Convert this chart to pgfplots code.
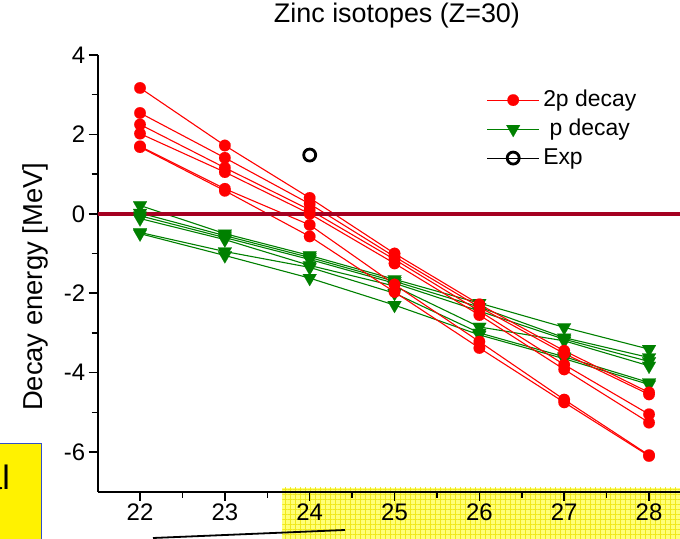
\documentclass[border=0pt]{standalone}
\usepackage{fontspec}
\setmainfont{Liberation Sans}
\usepackage{pgfplots}
\pgfplotsset{compat=1.18}
\usetikzlibrary{patterns.meta}

\definecolor{ptred}{RGB}{255,0,0}
\definecolor{ptgreen}{RGB}{0,128,0}
\definecolor{zeroline}{RGB}{165,0,33}
\definecolor{boxblue}{RGB}{50,80,200}
\definecolor{softyellow}{RGB}{255,255,120}
\definecolor{hatchyellow}{RGB}{240,232,60}

\pgfplotsset{
  twop/.style={ptred, line width=1.1bp, mark=*, mark size=5.8bp, mark options={fill=ptred, draw=ptred, line width=0.1bp}},
  onep/.style={ptgreen, line width=1.1bp, mark=triangle*, mark size=8bp, mark options={rotate=180, fill=ptgreen, draw=ptgreen, line width=0.1bp}},
}

\begin{document}
\begin{tikzpicture}
\useasboundingbox (0,0) rectangle (680bp,539bp);
\begin{scope}
\clip (0,0) rectangle (680bp,539bp);
\begin{axis}[
  at={(97.6bp,47.3bp)}, anchor=south west,
  scale only axis, width=582.4bp, height=436.7bp,
  xmin=21.5, xmax=28.365, ymin=-7, ymax=4,
  axis x line*=bottom, axis y line*=left,
  axis line style={line width=1.8bp},
  xtick={22,...,28}, ytick={-6,-4,...,4},
  minor x tick num=1, minor y tick num=1,
  tick align=outside,
  major tick length=9bp, minor tick length=6bp,
  every tick/.style={black, line width=1.5bp},
  tick label style={font=\fontsize{24}{29}\selectfont},
  /pgf/number format/assume math mode=true,
  title={Zinc isotopes (Z=30)},
  title style={font=\fontsize{27}{32}\selectfont, at={(axis description cs:0.514,1)}, anchor=center, yshift=33bp},
  ylabel={Decay energy [MeV]},
  ylabel style={font=\fontsize{27.5}{33}\selectfont, at={(axis description cs:-0.1075,0.469)}, anchor=center},
  legend style={draw=none, fill=none, at={(axis description cs:0.668,0.930)}, anchor=north west,
    inner sep=0pt, outer sep=0pt, font=\fontsize{23}{27}\selectfont,
    nodes={inner sep=3.5bp, text height=17bp, text depth=5bp}},
  legend cell align=left,
  legend image code/.code={\draw[mark repeat=2,mark phase=2,#1] plot coordinates {(0bp,0bp) (26bp,0bp) (52bp,0bp)};},
]
\addlegendimage{twop}
\addlegendentry{2p decay}
\addlegendimage{onep}
\addlegendentry{\ p decay}
\addlegendimage{black, line width=1bp, mark=o, mark size=6bp, mark options={line width=2.8bp}}
\addlegendentry{Exp}

% p decay
\addplot[onep, forget plot] coordinates {(22,0.21) (23,-0.50) (24,-1.05) (25,-1.65) (26,-2.25) (27,-2.86) (28,-3.41)};
\addplot[onep, forget plot] coordinates {(22,0.02) (23,-0.55) (24,-1.10) (25,-1.70) (26,-2.35) (27,-3.12) (28,-3.62)};
\addplot[onep, forget plot] coordinates {(22,-0.05) (23,-0.60) (24,-1.15) (25,-1.75) (26,-2.45) (27,-3.16) (28,-3.72)};
\addplot[onep, forget plot] coordinates {(22,-0.12) (23,-0.65) (24,-1.30) (25,-1.82) (26,-2.85) (27,-3.20) (28,-3.83)};
\addplot[onep, forget plot] coordinates {(22,-0.47) (23,-0.95) (24,-1.35) (25,-2.00) (26,-3.00) (27,-3.60) (28,-4.25)};
\addplot[onep, forget plot] coordinates {(22,-0.50) (23,-1.05) (24,-1.62) (25,-2.30) (26,-3.05) (27,-3.65) (28,-4.30)};

% 2p decay
\addplot[twop, forget plot] coordinates {(22,3.17) (23,1.72) (24,0.40) (25,-1.00) (26,-2.28) (27,-3.45) (28,-4.50)};
\addplot[twop, forget plot] coordinates {(22,2.54) (23,1.41) (24,0.25) (25,-1.08) (26,-2.35) (27,-3.52) (28,-4.55)};
\addplot[twop, forget plot] coordinates {(22,2.25) (23,1.16) (24,0.10) (25,-1.15) (26,-2.45) (27,-3.80) (28,-5.05)};
\addplot[twop, forget plot] coordinates {(22,2.02) (23,1.05) (24,0.00) (25,-1.25) (26,-2.55) (27,-3.92) (28,-5.26)};
\addplot[twop, forget plot] coordinates {(22,1.70) (23,0.63) (24,-0.28) (25,-1.78) (26,-3.22) (27,-4.68) (28,-6.08)};
\addplot[twop, forget plot] coordinates {(22,1.68) (23,0.58) (24,-0.57) (25,-1.97) (26,-3.38) (27,-4.75) (28,-6.10)};

% experiment
\addplot[black, only marks, mark=o, mark size=6bp, mark options={line width=2.8bp}, forget plot] coordinates {(24,1.48)};

% zero line
\addplot[zeroline, line width=4bp, forget plot] coordinates {(21.5,0) (28.4,0)};
\end{axis}

% slide fragments around the chart
\begin{scope}[blend mode=multiply]
\fill[softyellow] (282bp,0) rectangle (690bp,51bp);
\fill[pattern={Hatch[distance=5bp, line width=0.5bp]}, pattern color=hatchyellow] (282bp,0) rectangle (690bp,51bp);
\end{scope}
\filldraw[fill=yellow, draw=boxblue, line width=1bp] (-5bp,-5bp) rectangle (41bp,95bp);
\node[anchor=base east, inner sep=0pt, font=\fontsize{34}{40}\selectfont] at (10bp,49bp) {al};
\draw[line width=1.8bp] (153bp,1bp) -- (345bp,9bp);
\end{scope}
\end{tikzpicture}
\end{document}
